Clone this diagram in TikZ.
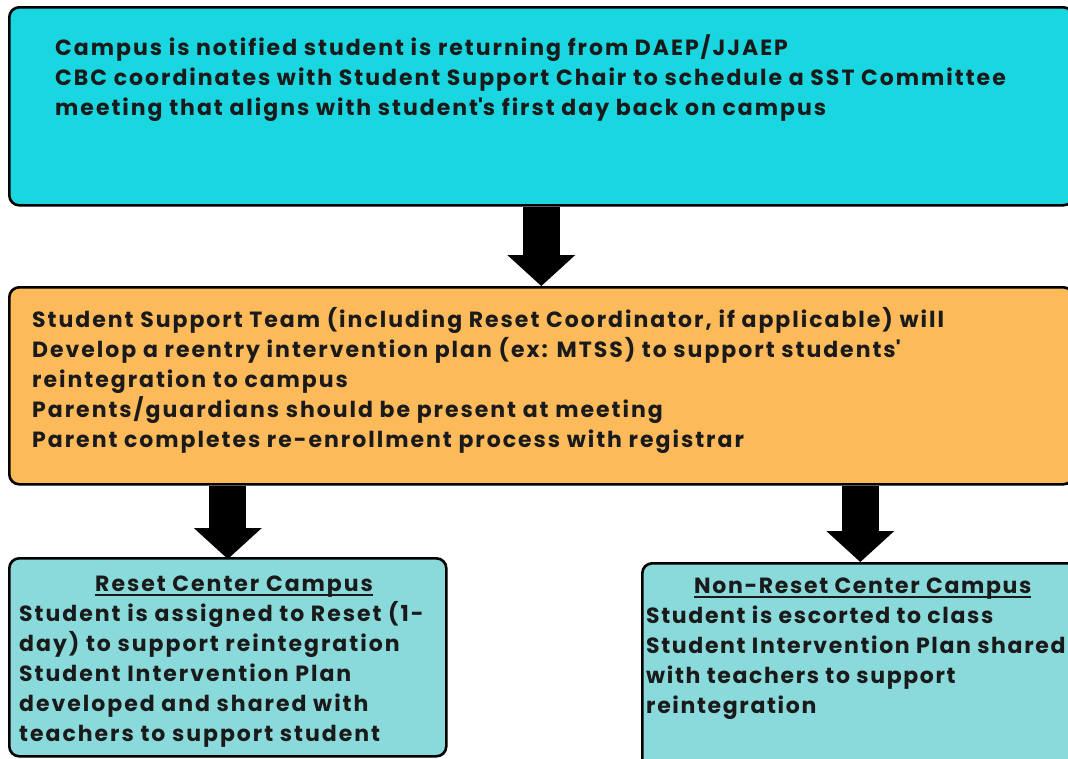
\documentclass[tikz,border=0pt]{standalone}
\usepackage{fontspec}
\setmainfont{Poppins}[LetterSpace=9]
\usetikzlibrary{arrows.meta,positioning}
\definecolor{topcyan}{HTML}{19D6E0}
\definecolor{planorange}{HTML}{FCBA5B}
\definecolor{campusteal}{HTML}{8ADADB}
\definecolor{inkgray}{HTML}{1A1A1A}
\newcommand{\ultitle}[1]{\setbox0\hbox{#1}\rlap{\rule[-4.5pt]{\wd0}{1.6pt}}\box0}
\tikzset{
  flowbox/.style={draw=black, line width=2.6pt, rounded corners=10pt, inner sep=0pt, anchor=north west},
  boxtext/.style={anchor=base west, inner sep=0pt, align=left, text=inkgray,
    font=\bfseries\fontsize{22pt}{30pt}\selectfont},
  blockarrow/.style={line width=37pt, -{Triangle[width=68pt,length=31pt,line width=0pt]}}
}
\begin{document}
\begin{tikzpicture}[x=1pt,y=-1pt]
    \useasboundingbox (0,0) rectangle (1068,758);
    %boxes
    \node[flowbox, fill=topcyan, minimum width=1064pt, minimum height=198pt] (notify) at (8,6) {};
    \node[flowbox, fill=planorange, minimum width=1064pt, minimum height=197pt] (plan) at (8,286) {};
    \node[flowbox, fill=campusteal, minimum width=437pt, minimum height=198pt] (reset) at (8,557) {};
    \node[flowbox, fill=campusteal, minimum width=438pt, minimum height=220pt] (nonreset) at (641,562) {};
    %texts (anchored at the baseline of their last line)
    \node[boxtext] (notifytext) at ([xshift=47pt,yshift=-109pt]notify.north west)
      {Campus is notified student is returning from DAEP/JJAEP\\
       CBC coordinates with Student Support Chair to schedule a SST Committee\\
       meeting that aligns with student\textquotesingle s first day back on campus};
    \node[boxtext] (plantext) at ([xshift=24pt,yshift=-161pt]plan.north west)
      {Student Support Team (including Reset Coordinator, if applicable) will\\
       Develop a reentry intervention plan (ex: MTSS) to support students\textquotesingle\\
       reintegration to campus\\
       Parents/guardians should be present at meeting\\
       Parent completes re-enrollment process with registrar};
    \node[boxtext] (resettext) at ([xshift=11pt,yshift=-184pt]reset.north west)
      {\hspace*{76pt}\ultitle{Reset Center Campus}\\
       Student is assigned to Reset (1-\\
       day) to support reintegration\\
       Student Intervention Plan\\
       developed and shared with\\
       teachers to support student};
    \node[boxtext, font=\bfseries\fontsize{22pt}{30pt}\selectfont\addfontfeatures{LetterSpace=7.5}]
      (nonresettext) at ([xshift=5pt,yshift=-151pt]nonreset.north west)
      {\hspace*{48pt}\ultitle{Non-Reset Center Campus}\\
       Student is escorted to class\\
       Student Intervention Plan shared\\
       with teachers to support\\
       reintegration};
    %draw arrows
    \draw[blockarrow] (notify.south) -- (plan.north);
    \draw[blockarrow] (plan.south -| reset.north) -- ([yshift=-2pt]reset.north);
    \draw[blockarrow] ([xshift=-1pt]plan.south -| nonreset.north) -- ([xshift=-1pt]nonreset.north);
\end{tikzpicture}
\end{document}
